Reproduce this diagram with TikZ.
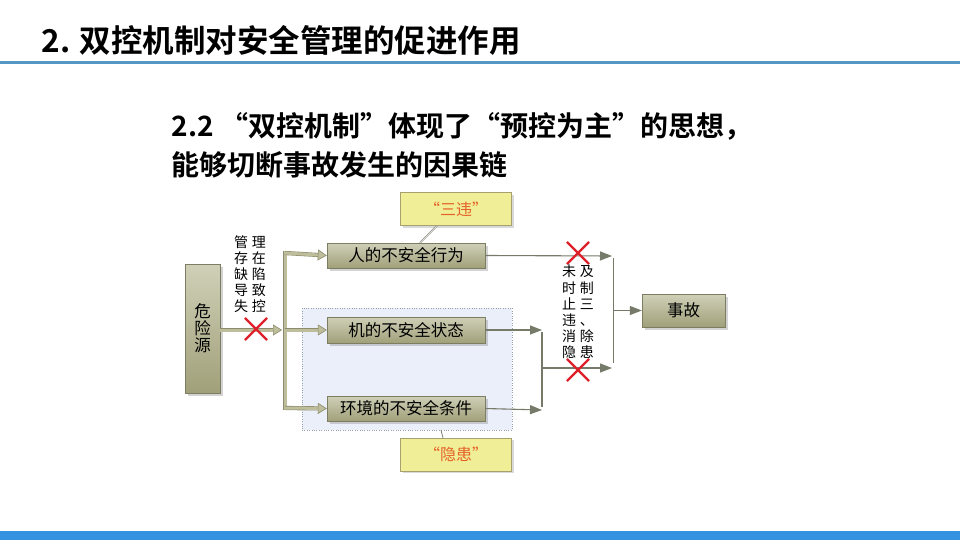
\documentclass[tikz,border=0pt]{standalone}
\usepackage{fontspec}
\setmainfont{Noto Sans CJK SC}[BoldFont={Noto Sans CJK SC Bold}]
\usetikzlibrary{arrows.meta,shadows,shapes.misc}

\definecolor{titleline}{RGB}{84,150,196}
\definecolor{footbar}{RGB}{52,146,224}
\definecolor{boxtop}{RGB}{208,208,184}
\definecolor{boxbot}{RGB}{160,160,122}
\definecolor{boxedge}{RGB}{125,125,98}
\definecolor{pipe}{RGB}{190,190,156}
\definecolor{pipeedge}{RGB}{140,140,108}
\definecolor{thinline}{RGB}{118,122,104}
\definecolor{zonefill}{RGB}{234,239,250}
\definecolor{zoneedge}{RGB}{150,160,172}
\definecolor{notefill}{RGB}{240,238,150}
\definecolor{noteedge}{RGB}{165,162,112}
\definecolor{notetext}{RGB}{228,98,42}
\definecolor{crossred}{RGB}{222,32,42}

\tikzset{
  factor/.style={draw=boxedge, top color=boxtop, bottom color=boxbot,
    drop shadow={opacity=0.35, shadow xshift=2.5pt, shadow yshift=-2.5pt},
    inner sep=0pt, font=\fontsize{16.5}{17}\selectfont},
  note/.style={draw=noteedge, fill=notefill, minimum width=111, minimum height=33,
    drop shadow={opacity=0.3, shadow xshift=2pt, shadow yshift=-2pt},
    text=notetext, font=\fontsize{16}{16}\selectfont},
  zone/.style={draw=zoneedge, dotted, fill=zonefill},
  pipearrow/.style={draw=pipeedge, double=pipe, double distance=3pt, line width=0.6pt,
    -{Triangle[length=9pt,width=11pt,fill=pipe]}},
  pipeline/.style={draw=pipeedge, double=pipe, double distance=3pt, line width=0.6pt},
  flow/.style={thinline, line width=1.1pt, -{Triangle[length=12pt,width=9pt]}},
  flowline/.style={thinline, line width=1.1pt},
  stop/.style={cross out, draw=crossred, line width=2.2pt, minimum size=20pt, inner sep=0pt},
  small/.style={font=\fontsize{14}{14.5}\selectfont, inner sep=0pt},
}

\begin{document}
\begin{tikzpicture}[x=1pt, y=-1pt]
\useasboundingbox (0,0) rectangle (960,540);

% heading and bars
\node[anchor=west, font=\fontsize{31.5}{31.5}\selectfont\bfseries] (title) at (38,40) {2. 双控机制对安全管理的促进作用};
\fill[titleline] (0,61) rectangle (960,64.5);
\fill[footbar] (0,531) rectangle (960,540);
\node[anchor=west, font=\fontsize{28}{28}\selectfont\bfseries] (sub1) at (168,126) {2.2 “双控机制”体现了“预控为主”的思想，};
\node[anchor=west, font=\fontsize{28}{28}\selectfont\bfseries] (sub2) at (168,165) {能够切断事故发生的因果链};

% shaded zone of hidden dangers
\node[zone, minimum width=210, minimum height=122] (zone) at (407,369) {};

% boxes
\node[factor, minimum width=35, minimum height=129, align=center] (hazard) at (202.5,328.5) {危\\险\\源};
\node[factor, minimum width=158, minimum height=25] (human) at (406,255.5) {人的不安全行为};
\node[factor, minimum width=158, minimum height=26] (machine) at (406,330) {机的不安全状态};
\node[factor, minimum width=158, minimum height=25] (envir) at (406,408.5) {环境的不安全条件};
\node[factor, minimum width=83, minimum height=33] (accident) at (683.5,310.5) {事故};

% callouts
\node[note] (sanwei) at (456,209) {“三违”};
\node[note] (yinhuan) at (456,454.5) {“隐患”};
\draw[thinline, double, line width=0.5pt] ([xshift=-19pt]sanwei.south) -- ([xshift=14pt]human.north);
\draw[thinline, line width=0.8pt] ([xshift=-13pt]yinhuan.north) -- ([xshift=34pt]zone.south);

% hazard source to the three factors
\coordinate (bustop) at (285,253);
\coordinate (busmid) at (285,330);
\coordinate (busbot) at (285,408);
\draw[pipearrow] (hazard.east |- busmid) -- (282,330);
\draw[pipeline] ([yshift=2pt]bustop) -- ([yshift=-2pt]busbot);
\draw[pipearrow] (bustop) -- (human.west);
\draw[pipearrow] (busmid) -- (machine.west);
\draw[pipearrow] (busbot) -- (envir.west);
\node[small] (lack) at (250,276) {\begin{tabular}{@{}c@{\hspace{4pt}}c@{}}管&理\\存&在\\缺&陷\\导&致\\失&控\end{tabular}};
\node[stop] (cut1) at (256,329) {};

% factors to accident
\coordinate (join1) at (612,256);
\coordinate (join2) at (612,368);
\coordinate (mtop) at (542,330);
\coordinate (mbot) at (542,410);
\draw[flow] (human.east) -- (join1);
\draw[flow] (machine.east) -- (mtop);
\draw[flow] (envir.east) -- (mbot);
\draw[flowline] ([yshift=-2pt]mtop) -- ([yshift=3pt]mbot);
\draw[flow] (542,368) -- (join2);
\draw[flowline] ([xshift=1.5pt,yshift=-2pt]join1) -- ([xshift=1.5pt,yshift=5pt]join2);
\draw[flow] (613.5,310.5) -- (accident.west);
\node[stop] (cut2) at (578,253) {};
\node[stop] (cut3) at (578,370) {};
\node[small] (late) at (578,313.5) {\begin{tabular}{@{}c@{\hspace{4pt}}c@{}}未&及\\时&制\\止&三\\违&、\\消&除\\隐&患\end{tabular}};

\end{tikzpicture}
\end{document}
